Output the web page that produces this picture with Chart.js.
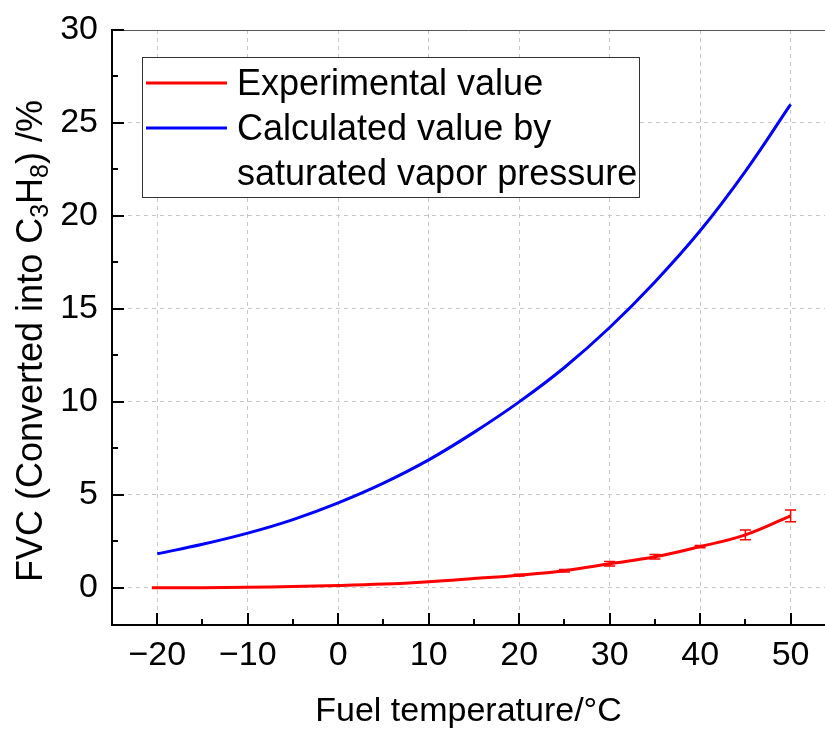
<!DOCTYPE html>
<html>
<head>
<meta charset="utf-8">
<title>FVC vs fuel temperature</title>
<script src="https://cdn.jsdelivr.net/npm/chart.js@4.4.1/dist/chart.umd.min.js"></script>
<style>
  html, body { margin: 0; padding: 0; background: #fff; overflow: hidden; }
  #fvcChart { display: block; }
</style>
</head>
<body>
<canvas id="fvcChart" width="825" height="731"></canvas>
<script>
// ---- data ----
// calculated curve (saturated vapor pressure), every 5 °C
const calcTemps = [-20, -15, -10, -5, 0, 5, 10, 15, 20, 25, 30, 35, 40, 45, 50];
const calcValues = [1.83, 2.34, 2.94, 3.67, 4.57, 5.63, 6.88, 8.36, 10.0, 11.85, 14.0, 16.45, 19.2, 22.4, 26.0];

// experimental fit curve
const fitTemps = [-20.6, -15, -10, -5, 0, 5, 10, 15, 20, 25, 30, 35, 40, 45, 50];
const fitValues = [0.0, 0.01, 0.03, 0.07, 0.12, 0.2, 0.33, 0.5, 0.68, 0.92, 1.29, 1.67, 2.22, 2.85, 3.87];

// measured points with error bars
const expTemps = [20, 25, 30, 35, 40, 45, 50];
const expValues = [0.68, 0.92, 1.29, 1.67, 2.22, 2.85, 3.87];
const expErrors = [0.05, 0.07, 0.12, 0.12, 0.06, 0.26, 0.32];

// axis ticks
const xTicks = [-20, -10, 0, 10, 20, 30, 40, 50];
const xMinorTicks = [-15, -5, 5, 15, 25, 35, 45];
const yTicks = [0, 5, 10, 15, 20, 25, 30];
const yMinorTicks = [2.5, 7.5, 12.5, 17.5, 22.5, 27.5];

const legendLabels = ['Experimental value', 'Calculated value by', 'saturated vapor pressure'];

const FONT = '"Liberation Sans", Arial, sans-serif';
const RED = '#ff0000';
const BLUE = '#0000ff';

function toPoints(xs, ys) {
    return xs.map((x, i) => ({ x: x, y: ys[i] }));
}

function tickLabel(v) {
    return v < 0 ? '\u2212' + Math.abs(v) : String(v);
}

// fixed axis sizes, and no extra room reserved for edge labels
function fixScale(s, size) {
    if (s.isHorizontal()) s.height = size; else s.width = size;
    s.paddingTop = 0;
    s.paddingBottom = 0;
    s.paddingLeft = 0;
    s.paddingRight = 0;
}

// error bars on the experimental points
const errorBarPlugin = {
    id: 'errorBars',
    afterDatasetsDraw(chart) {
        const { ctx, scales: { x, y } } = chart;
        ctx.save();
        ctx.strokeStyle = RED;
        ctx.lineWidth = 1.5;
        expTemps.forEach((t, i) => {
            const px = x.getPixelForValue(t);
            const top = y.getPixelForValue(expValues[i] + expErrors[i]);
            const bot = y.getPixelForValue(expValues[i] - expErrors[i]);
            ctx.beginPath();
            ctx.moveTo(px, top); ctx.lineTo(px, bot);
            ctx.moveTo(px - 5.5, top); ctx.lineTo(px + 5.5, top);
            ctx.moveTo(px - 5.5, bot); ctx.lineTo(px + 5.5, bot);
            ctx.stroke();
        });
        ctx.restore();
    }
};

// frame, inward ticks, y title with subscripts and the boxed legend
const framePlugin = {
    id: 'frame',
    afterDraw(chart) {
        const { ctx, chartArea: a, scales: { x, y } } = chart;
        ctx.save();

        // top border (thin grey)
        ctx.strokeStyle = '#555';
        ctx.lineWidth = 1;
        ctx.beginPath();
        ctx.moveTo(a.left, a.top + 0.5); ctx.lineTo(a.right, a.top + 0.5);
        ctx.stroke();

        // left and bottom axes
        ctx.strokeStyle = '#000';
        ctx.lineWidth = 2;
        ctx.beginPath();
        ctx.moveTo(a.left, a.top - 1); ctx.lineTo(a.left, a.bottom + 1);
        ctx.moveTo(a.left - 1, a.bottom); ctx.lineTo(a.right, a.bottom);
        ctx.stroke();

        // ticks pointing into the plot
        ctx.beginPath();
        yTicks.forEach(v => {
            const py = Math.round(y.getPixelForValue(v));
            ctx.moveTo(a.left, py); ctx.lineTo(a.left + 12, py);
        });
        yMinorTicks.forEach(v => {
            const py = Math.round(y.getPixelForValue(v));
            ctx.moveTo(a.left, py); ctx.lineTo(a.left + 6, py);
        });
        xTicks.forEach(v => {
            const px = Math.round(x.getPixelForValue(v));
            ctx.moveTo(px, a.bottom); ctx.lineTo(px, a.bottom - 12);
        });
        xMinorTicks.forEach(v => {
            const px = Math.round(x.getPixelForValue(v));
            ctx.moveTo(px, a.bottom); ctx.lineTo(px, a.bottom - 6);
        });
        ctx.stroke();

        // y axis title: FVC (Converted into C3H8) /%
        const parts = [
            { t: 'FVC (Converted into C', sub: false },
            { t: '3', sub: true },
            { t: 'H', sub: false },
            { t: '8', sub: true },
            { t: ') /%', sub: false }
        ];
        const mainFont = '36px ' + FONT;
        const subFont = '25px ' + FONT;
        let total = 0;
        parts.forEach(p => {
            ctx.font = p.sub ? subFont : mainFont;
            p.w = ctx.measureText(p.t).width;
            total += p.w;
        });
        ctx.translate(42, 341);
        ctx.rotate(-Math.PI / 2);
        ctx.fillStyle = '#000';
        ctx.textBaseline = 'alphabetic';
        ctx.textAlign = 'left';
        let cx = -total / 2;
        parts.forEach(p => {
            ctx.font = p.sub ? subFont : mainFont;
            ctx.fillText(p.t, cx, p.sub ? 6 : 0);
            cx += p.w;
        });
        ctx.setTransform(1, 0, 0, 1, 0, 0);

        // legend box
        const bx = 142, by = 57.5, bw = 497, bh = 140;
        ctx.fillStyle = '#fff';
        ctx.fillRect(bx, by, bw, bh);
        ctx.strokeStyle = '#333';
        ctx.lineWidth = 1;
        ctx.strokeRect(bx + 0.5, by, bw, bh);

        const swatches = [
            { color: chart.data.datasets[0].borderColor, y: 83 },
            { color: chart.data.datasets[1].borderColor, y: 128 }
        ];
        ctx.lineWidth = 3;
        swatches.forEach(s => {
            ctx.strokeStyle = s.color;
            ctx.beginPath();
            ctx.moveTo(146, s.y); ctx.lineTo(227, s.y);
            ctx.stroke();
        });

        ctx.fillStyle = '#000';
        ctx.font = '36px ' + FONT;
        ctx.textBaseline = 'alphabetic';
        legendLabels.forEach((txt, i) => {
            ctx.fillText(txt, 237, 95 + i * 45);
        });

        ctx.restore();
    }
};

const canvas = document.getElementById('fvcChart');
const fvcChart = new Chart(canvas.getContext('2d'), {
    type: 'line',
    data: {
        datasets: [
            {
                label: legendLabels[0],
                data: toPoints(fitTemps, fitValues),
                borderColor: RED,
                borderWidth: 3,
                pointRadius: 0,
                fill: false,
                tension: 0.4
            },
            {
                label: legendLabels[1] + ' ' + legendLabels[2],
                data: toPoints(calcTemps, calcValues),
                borderColor: BLUE,
                borderWidth: 3,
                pointRadius: 0,
                fill: false,
                tension: 0.4
            }
        ]
    },
    options: {
        responsive: false,
        animation: false,
        devicePixelRatio: 1,
        layout: { padding: { top: 30, left: 0, right: 0, bottom: 0 }, autoPadding: false },
        plugins: {
            legend: { display: false },
            tooltip: { enabled: false }
        },
        scales: {
            x: {
                type: 'linear',
                min: -25,
                max: 53.8,
                afterBuildTicks: s => { s.ticks = xTicks.map(v => ({ value: v })); },
                afterFit: s => fixScale(s, 106),
                grid: { color: '#c8c8c8', lineWidth: 1, drawTicks: false },
                border: { display: false, dash: [4, 4] },
                ticks: {
                    font: { family: FONT, size: 34 },
                    color: '#000',
                    padding: 10,
                    maxRotation: 0,
                    autoSkip: false,
                    callback: v => tickLabel(v)
                },
                title: {
                    display: true,
                    text: 'Fuel temperature/°C',
                    color: '#000',
                    font: { family: FONT, size: 34, lineHeight: 1 },
                    padding: { top: 0, bottom: 2 }
                }
            },
            y: {
                type: 'linear',
                min: -2,
                max: 30,
                afterBuildTicks: s => { s.ticks = yTicks.map(v => ({ value: v })); },
                afterFit: s => fixScale(s, 112),
                grid: { color: '#c8c8c8', lineWidth: 1, drawTicks: false },
                border: { display: false, dash: [4, 4] },
                ticks: {
                    font: { family: FONT, size: 34 },
                    color: '#000',
                    padding: 14,
                    autoSkip: false,
                    callback: v => tickLabel(v)
                }
            }
        }
    },
    plugins: [errorBarPlugin, framePlugin]
});
</script>
</body>
</html>
